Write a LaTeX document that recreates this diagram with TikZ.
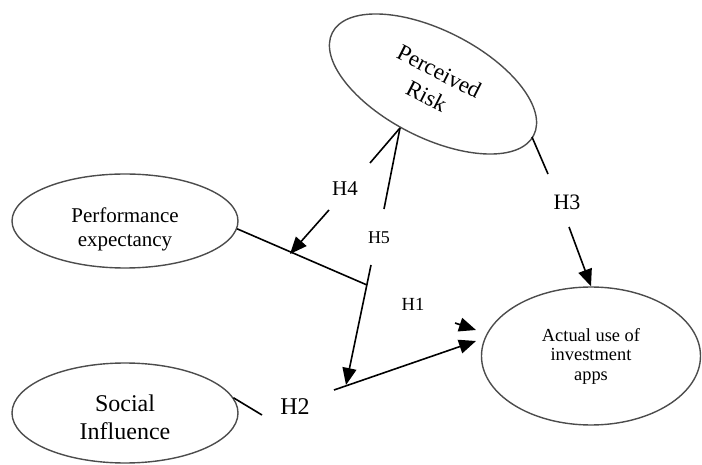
\documentclass[tikz,border=0pt]{standalone}
\usepackage{fontspec}
\setmainfont{Liberation Serif}
\usetikzlibrary{shapes.geometric,arrows.meta}

\tikzset{
  construct/.style={ellipse, draw=black!70, line width=1.4pt, align=center, inner sep=0pt},
  path/.style={line width=1.6pt},
  hyp/.style={path, -{Triangle[length=17pt,width=14pt]}},
  hlabel/.style={inner sep=0pt}
}

\begin{document}
\begin{tikzpicture}[x=1pt, y=-1pt]
  \useasboundingbox (0,0) rectangle (702,465);

  % constructs
  \node[construct, minimum width=226pt, minimum height=107pt, rotate=-27,
        font=\fontsize{23}{28}\selectfont] (pr) at (433,84) {Perceived\\Risk};
  \node[construct, minimum width=226pt, minimum height=94pt,
        font=\fontsize{21}{24}\selectfont] (pe) at (125,221) {\rule{0pt}{32pt}Performance\\expectancy};
  \node[construct, minimum width=226pt, minimum height=100pt,
        font=\fontsize{24}{28}\selectfont] (si) at (125,413) {\rule{0pt}{26pt}Social\\Influence};
  \node[construct, minimum width=219pt, minimum height=138pt,
        font=\fontsize{18.4}{19.5}\selectfont] (au) at (591,356) {Actual use of\\investment\\apps};

  % hypothesis labels
  \node[hlabel, font=\fontsize{21}{21}\selectfont] (h4) at (345,189) {H4};
  \node[hlabel, font=\fontsize{18}{18}\selectfont] (h5) at (379,238) {H5};
  \node[hlabel, font=\fontsize{18.5}{18.5}\selectfont] (h1) at (413,304) {H1};
  \node[hlabel, font=\fontsize{24}{24}\selectfont] (h2) at (295,407) {H2};
  \node[hlabel, font=\fontsize{22}{22}\selectfont] (h3) at (567,202) {H3};

  % end points
  \coordinate (pr-low) at (400,128);
  \coordinate (pr-right) at (532,137);
  \coordinate (h4-in) at (370,163);
  \coordinate (h4-out) at (329,210);
  \coordinate (h4-tip) at (290,254);
  \coordinate (h5-in) at (384,209);
  \coordinate (h5-out) at (371,265);
  \coordinate (h5-tip) at (346,385);
  \coordinate (mod) at (367,285);
  \coordinate (h2-in) at (262,415);
  \coordinate (h2-out) at (334,390);
  \coordinate (h2-tip) at (476,341);
  \coordinate (h1-out) at (455,323);
  \coordinate (h1-tip) at (476,330);
  \coordinate (h3-in) at (548,174);
  \coordinate (h3-out) at (569,227);

  % PE -> moderation point
  \draw[path] (pe.-4) -- (mod);
  % H4
  \draw[path] (pr-low) -- (h4-in);
  \draw[hyp] (h4-out) -- (h4-tip);
  % H5
  \draw[path] (pr-low) -- (h5-in);
  \draw[hyp] (h5-out) -- (h5-tip);
  % H2
  \draw[path] (si.8) -- (h2-in);
  \draw[hyp] (h2-out) -- (h2-tip);
  % H1
  \draw[hyp] (h1-out) -- (h1-tip);
  % H3
  \draw[path] (pr-right) -- (h3-in);
  \draw[hyp] (h3-out) -- (au.north);
\end{tikzpicture}
\end{document}
